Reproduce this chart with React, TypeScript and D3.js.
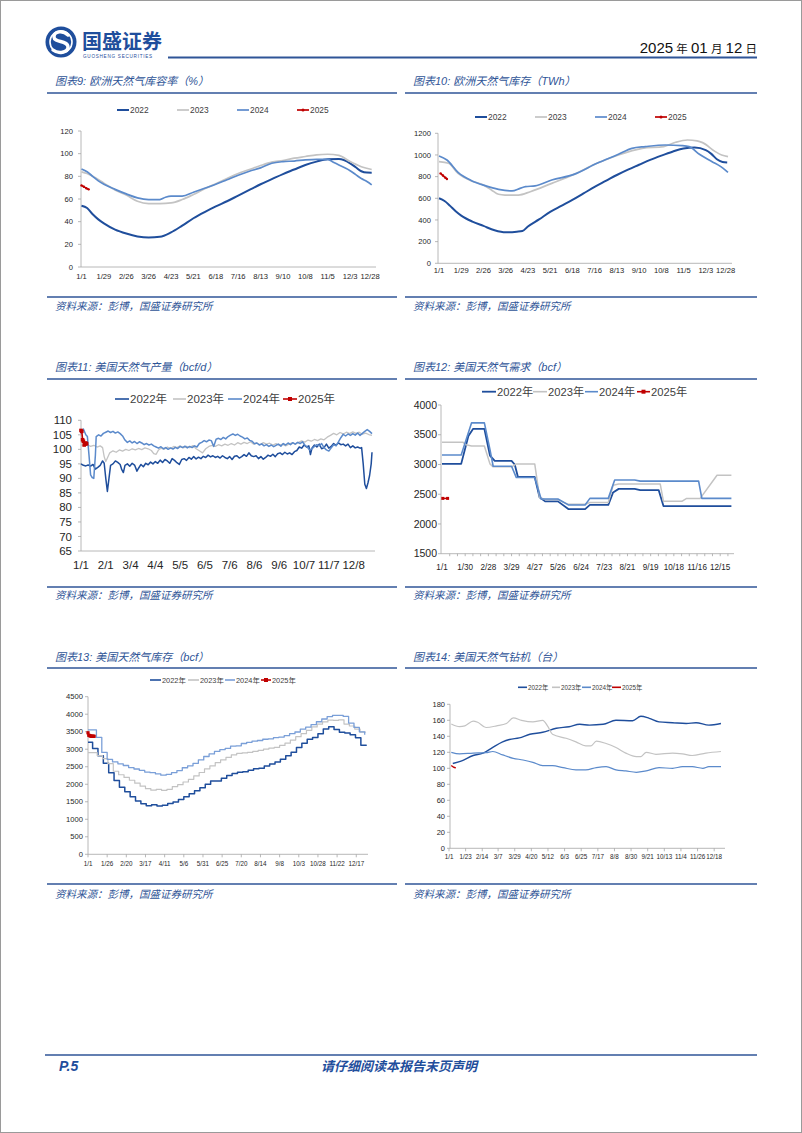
import React from 'react';
import * as d3 from 'd3';

// ---------- colours ----------
const C22 = '#1F4E9C';
const C23 = '#C3C3C3';
const C24 = '#5B8ACB';
const C24L = '#7A9FD8';
const C25 = '#C00000';
const BLUE = '#2F5597';
const AXIS = '#A6A6A6';
const LAT = "'Liberation Sans', Arial, sans-serif";
const CJK = "'Noto Sans CJK SC', sans-serif";

// ---------- chart 9: EU storage % ----------
const EU_PCT_LABELS = ['1/1', '1/29', '2/26', '3/26', '4/23', '5/21', '6/18', '7/16', '8/13', '9/10', '10/8', '11/5', '12/3', '12/28'];
const EU_PCT_TICKS = [0, 20, 40, 60, 80, 100, 120];
const EU_PCT_2022 = [[0, 54], [7, 52], [14, 46.5], [21, 42], [28, 38.5], [42, 33], [56, 29.5], [70, 27], [84, 26], [98, 26.6], [112, 30.5], [126, 36.5], [140, 43], [154, 48.5], [168, 53.5], [182, 58], [196, 63], [210, 68], [224, 73], [238, 77.5], [252, 82], [266, 86], [280, 90], [294, 93], [308, 95], [322, 95.2], [336, 91.5], [343, 88], [350, 84.5], [357, 83.3], [363, 83.2]];
const EU_PCT_2023 = [[0, 84], [7, 82.5], [14, 80], [28, 74], [42, 68], [56, 63.5], [70, 58], [84, 56], [98, 56], [112, 56.5], [126, 59.5], [140, 64], [154, 69], [168, 73.5], [182, 78], [196, 82.5], [210, 86], [224, 89.5], [238, 92.5], [252, 94], [266, 96], [280, 97.5], [294, 99], [308, 99.5], [322, 98.5], [336, 93], [350, 88.5], [363, 86]];
const EU_PCT_2024 = [[0, 86.5], [7, 84], [14, 80], [21, 76], [28, 73], [42, 68.5], [56, 64.5], [70, 61], [84, 59.5], [98, 59.5], [105, 61.5], [112, 62.5], [126, 62.5], [140, 66], [154, 69.5], [168, 73], [182, 77], [196, 81], [210, 84.5], [224, 87.5], [238, 91.5], [252, 93], [266, 93.5], [280, 94.5], [294, 95], [308, 95], [315, 92.5], [322, 90], [336, 85], [343, 81.5], [350, 78], [357, 75.5], [363, 72.5]];
const EU_PCT_2025 = [[0, 72], [3, 70.8], [6, 69.5], [9, 68.5]];

// ---------- chart 10: EU storage TWh ----------
const EU_TWH_TICKS = [0, 200, 400, 600, 800, 1000, 1200];
const EU_TWH_2022 = [[0, 600], [7, 575], [14, 530], [21, 480], [28, 440], [42, 385], [56, 345], [70, 305], [84, 286], [98, 292], [105, 298], [112, 340], [126, 405], [140, 475], [154, 530], [168, 585], [182, 645], [196, 705], [210, 760], [224, 815], [238, 865], [252, 910], [266, 955], [280, 994], [294, 1030], [308, 1060], [322, 1068], [336, 1045], [343, 1010], [350, 960], [357, 935], [363, 930]];
const EU_TWH_2023 = [[0, 938], [12, 923], [24, 830], [41, 760], [54, 729], [66, 677], [75, 637], [83, 630], [100, 630], [115, 661], [142, 738], [170, 821], [199, 923], [226, 1000], [256, 1061], [283, 1077], [298, 1117], [313, 1138], [325, 1130], [332, 1114], [348, 1031], [356, 1000], [364, 985]];
const EU_TWH_2024 = [[0, 991], [10, 954], [24, 840], [41, 763], [58, 717], [75, 683], [92, 668], [102, 692], [109, 708], [121, 714], [142, 769], [170, 821], [199, 923], [226, 1006], [243, 1061], [260, 1077], [285, 1092], [306, 1086], [315, 1077], [328, 1006], [344, 938], [355, 892], [364, 840]];
const EU_TWH_2025 = [[2, 830], [5, 810], [8, 790], [10, 778]];

// ---------- chart 11: US production bcf/d ----------
const PROD_LABELS = ['1/1', '2/1', '3/4', '4/4', '5/5', '6/5', '7/6', '8/6', '9/6', '10/7', '11/7', '12/8'];
const PROD_TICKS = [65, 70, 75, 80, 85, 90, 95, 100, 105, 110];
const PROD_2022 = [[0, 95], [3, 94.5], [6, 94.3], [9, 94.6], [12, 94.2], [15, 94.8], [18, 93.2], [21, 93.8], [24, 94.5], [27, 96], [29, 95.2], [31, 90], [33, 85.5], [35, 90], [37, 94.5], [40, 95], [43, 96], [46, 95.5], [49, 94.8], [51, 93], [53, 92], [55, 94.5], [58, 95], [61, 94.2], [64, 95.2], [67, 94.6], [70, 92.5], [72, 93.5], [75, 94.8], [78, 94], [81, 95.2], [84, 94.7], [87, 95.6], [90, 95], [93, 95.8], [96, 95.2], [99, 96.3], [102, 95.5], [105, 96.5], [108, 96], [111, 95.2], [114, 96.8], [117, 96.2], [120, 95.4], [123, 94.8], [126, 96.5], [129, 96.8], [132, 96.2], [135, 97.2], [138, 96.6], [141, 97.5], [144, 96.7], [147, 97.3], [150, 96.8], [153, 97.6], [156, 97.2], [159, 98], [162, 97.4], [165, 97.8], [168, 97.2], [171, 97.6], [174, 97], [177, 97.8], [180, 97.2], [183, 96.8], [186, 97.5], [189, 96.5], [192, 97.6], [195, 97.8], [198, 97], [201, 97.5], [204, 98.2], [207, 97.6], [210, 98.8], [213, 97.8], [216, 97.5], [219, 97.8], [222, 96.8], [225, 97.5], [228, 96.6], [231, 97.2], [234, 98], [237, 97.6], [240, 98.3], [243, 97.5], [246, 98.5], [249, 98.8], [252, 98.2], [255, 99], [258, 98.4], [261, 98.8], [264, 98.2], [267, 99.2], [270, 99.6], [273, 100.8], [276, 100.4], [279, 101.5], [282, 100.8], [285, 101.2], [287, 98.2], [289, 100.5], [292, 101.5], [295, 100.8], [298, 101.8], [301, 100.2], [304, 100.6], [307, 101.8], [310, 100.4], [313, 101], [316, 102], [319, 101.4], [322, 102.2], [325, 101.6], [328, 101.8], [331, 101.2], [334, 101.8], [337, 100.6], [340, 101.2], [343, 100.5], [346, 100.8], [349, 100.4], [351, 100.6], [353, 95], [355, 88], [357, 86.5], [359, 88.5], [361, 91], [363, 95], [364, 99]];
const PROD_2023 = [[0, 101.5], [4, 101.2], [8, 101.6], [12, 101], [16, 101.4], [20, 100.8], [24, 101.2], [27, 100.6], [29, 97.5], [31, 95.8], [33, 97], [36, 98.8], [40, 99.5], [44, 99], [48, 99.8], [52, 99.4], [56, 100], [60, 99.6], [64, 100.2], [68, 99.8], [72, 100.3], [76, 99.9], [80, 100.5], [84, 100.2], [88, 99.6], [91, 98.5], [94, 98.3], [97, 99.8], [100, 100.4], [104, 100], [108, 100.8], [112, 100.3], [116, 101], [120, 100.6], [124, 101.2], [128, 100.5], [132, 101], [136, 100.6], [140, 101.3], [144, 100.2], [148, 99.5], [152, 98.8], [156, 100.2], [160, 101], [164, 101.4], [168, 101], [172, 101.6], [176, 101.2], [180, 101.8], [184, 101.4], [188, 102], [192, 101.5], [196, 102.3], [200, 101.8], [204, 102.4], [208, 102], [212, 102.6], [216, 101.8], [220, 102.2], [224, 101.6], [228, 102.3], [232, 101.8], [236, 102.1], [240, 101.5], [244, 102], [248, 101.4], [252, 101.8], [256, 101.2], [260, 101.8], [264, 102.2], [268, 101.8], [272, 102.4], [276, 102.9], [280, 102.5], [284, 103.2], [288, 102.8], [292, 103.4], [296, 103], [300, 103.6], [304, 103.3], [308, 104.2], [312, 104.8], [316, 105.5], [320, 105], [324, 105.8], [328, 105.3], [332, 105.9], [336, 105.4], [340, 106], [344, 105.5], [348, 105.9], [352, 105.2], [356, 105.6], [360, 105.1], [364, 104.8]];
const PROD_2024 = [[0, 105.3], [3, 107], [6, 105], [8, 104.4], [10, 98], [12, 91.2], [14, 90.3], [16, 90], [18, 98], [19, 104.4], [22, 105], [25, 104.6], [28, 105.5], [31, 105.9], [34, 106.3], [37, 105.8], [40, 106.2], [43, 105.6], [46, 106], [49, 105.4], [52, 104.6], [55, 103.2], [58, 102.4], [61, 102.9], [64, 102.2], [67, 102.7], [70, 102], [73, 102.6], [76, 102.2], [79, 101.6], [82, 102], [85, 101.5], [88, 101.8], [91, 101.2], [94, 100.8], [97, 100.4], [100, 100.9], [103, 100.2], [106, 100.6], [109, 100], [112, 100.5], [115, 100.1], [118, 100.7], [121, 100.3], [124, 101], [127, 100.6], [130, 101.1], [133, 100.5], [136, 101], [139, 100.6], [142, 101.2], [145, 100.8], [148, 102], [151, 102.4], [154, 103], [157, 102.6], [160, 103.2], [163, 103], [166, 101], [169, 103.5], [172, 103.8], [175, 103.4], [178, 104.1], [181, 103.6], [184, 104.4], [187, 104.9], [190, 105.3], [193, 104.8], [196, 105.2], [199, 104.6], [202, 104.2], [205, 103.6], [208, 103.9], [211, 103.1], [214, 102.8], [217, 101.9], [220, 102.2], [223, 101.5], [226, 101.9], [229, 101.2], [232, 101.6], [235, 101], [238, 101.5], [241, 100.9], [244, 101.4], [247, 101.8], [250, 101.1], [253, 102], [256, 101.5], [259, 102.2], [262, 101.6], [265, 102.3], [268, 101.8], [271, 102.4], [274, 102], [277, 102.6], [280, 101.5], [283, 100.8], [286, 99.8], [289, 100.2], [292, 101], [295, 101.6], [298, 101.2], [301, 102], [304, 100.6], [307, 99.8], [310, 99.4], [313, 100.5], [316, 101.6], [319, 101.2], [322, 102.6], [325, 104], [328, 105.2], [331, 104.6], [334, 105.3], [337, 104.8], [340, 105.4], [343, 104.9], [346, 105.6], [349, 104.8], [352, 105.5], [355, 106.2], [358, 106.8], [361, 106.2], [364, 105.4]];
const PROD_2025 = [[0, 106.5], [1, 106.2], [2, 103.3], [3, 102.8], [4, 101.5], [5, 101.8], [6, 102.2], [7, 101.9]];

// ---------- chart 12: US demand bcf ----------
const DEM_LABELS = ['1/1', '1/30', '2/28', '3/29', '4/27', '5/26', '6/24', '7/23', '8/21', '9/19', '10/18', '11/16', '12/15'];
const DEM_TICKS = [1500, 2000, 2500, 3000, 3500, 4000];
const DEM_2022 = [[0, 3010], [24, 3010], [33, 3480], [39, 3600], [53, 3600], [60, 3150], [66, 3060], [87, 3060], [91, 3000], [95, 2790], [116, 2790], [122, 2450], [129, 2380], [145, 2380], [158, 2250], [179, 2250], [185, 2320], [208, 2320], [214, 2530], [221, 2590], [241, 2590], [248, 2570], [271, 2570], [277, 2300], [362, 2300]];
const DEM_2023 = [[0, 3375], [26, 3375], [30, 3330], [37, 3310], [53, 3310], [60, 3010], [64, 2960], [87, 2960], [93, 3010], [116, 3010], [122, 2450], [129, 2410], [145, 2410], [158, 2330], [179, 2330], [185, 2360], [208, 2360], [214, 2650], [221, 2670], [273, 2670], [277, 2380], [300, 2380], [306, 2430], [323, 2430], [344, 2820], [362, 2820]];
const DEM_2024 = [[0, 3160], [24, 3160], [37, 3700], [53, 3700], [60, 3250], [64, 2970], [87, 2970], [93, 2780], [116, 2780], [124, 2420], [145, 2420], [158, 2320], [179, 2320], [185, 2430], [208, 2430], [216, 2740], [241, 2740], [248, 2720], [321, 2720], [325, 2430], [362, 2430]];
const DEM_2025 = [[1, 2430], [7, 2430]];

// ---------- chart 13: US storage bcf (weekly) ----------
const STOR_LABELS = ['1/1', '1/26', '2/20', '3/17', '4/11', '5/6', '5/31', '6/25', '7/20', '8/14', '9/8', '10/3', '10/28', '11/22', '12/17'];
const STOR_TICKS = [0, 500, 1000, 1500, 2000, 2500, 3000, 3500, 4000, 4500];
const STOR_2022_OPEN = 3197;
const STOR_2022 = [3022, 2816, 2597, 2329, 2107, 1917, 1788, 1643, 1519, 1440, 1389, 1415, 1382, 1397, 1450, 1490, 1567, 1643, 1732, 1812, 1902, 1999, 2091, 2095, 2169, 2251, 2309, 2341, 2356, 2397, 2441, 2459, 2519, 2580, 2634, 2711, 2814, 2917, 3046, 3171, 3282, 3334, 3441, 3580, 3644, 3564, 3483, 3462, 3412, 3325, 3112, 3099];
const STOR_2023 = [2902, 2820, 2729, 2588, 2371, 2271, 2195, 2114, 2030, 1946, 1874, 1830, 1853, 1828, 1855, 1935, 1988, 2064, 2141, 2237, 2336, 2440, 2524, 2619, 2695, 2767, 2839, 2880, 2896, 2912, 2941, 2970, 3004, 3033, 3054, 3109, 3174, 3262, 3359, 3443, 3540, 3637, 3716, 3779, 3833, 3826, 3836, 3719, 3664, 3577, 3490, 3476];
const STOR_2024 = [3552, 3336, 2910, 2713, 2638, 2584, 2535, 2475, 2435, 2395, 2349, 2332, 2296, 2259, 2283, 2333, 2392, 2471, 2527, 2597, 2695, 2793, 2867, 2938, 2990, 3022, 3087, 3097, 3164, 3196, 3229, 3250, 3285, 3298, 3333, 3347, 3387, 3445, 3492, 3574, 3629, 3705, 3785, 3863, 3932, 3969, 3966, 3937, 3747, 3622, 3497, 3413];
const STOR_2025 = [[0, 3470], [1, 3400], [2, 3390], [3, 3380], [4, 3372], [5, 3370], [6, 3370], [7, 3370], [8, 3370]];

// ---------- chart 14: US gas rigs ----------
const RIG_LABELS = ['1/1', '1/23', '2/14', '3/7', '3/29', '4/20', '5/12', '6/3', '6/25', '7/17', '8/8', '8/30', '9/21', '10/13', '11/4', '11/26', '12/18'];
const RIG_TICKS = [0, 20, 40, 60, 80, 100, 120, 140, 160, 180];
const RIG_2022 = [[5, 106], [16, 109], [32, 116], [45, 119], [56, 125], [71, 133], [80, 136], [93, 138], [107, 142.5], [124, 145], [142, 150], [159, 152], [173, 155], [186, 154], [204, 155], [221, 160], [243, 159.5], [254, 165], [265, 162.5], [278, 158], [296, 157], [314, 156], [327, 157], [344, 154], [360, 156]];
const RIG_2023 = [[3, 155.4], [14, 152], [21, 153], [32, 159], [38, 157.5], [49, 151], [63, 153], [76, 156], [85, 163], [96, 160], [111, 158], [124, 160], [131, 152], [137, 142.5], [155, 137.5], [168, 133], [181, 128], [188, 128], [195, 134], [208, 131], [221, 126], [234, 119], [248, 114.6], [254, 114.6], [261, 120], [274, 117.5], [296, 119], [309, 118], [322, 116], [340, 119], [360, 121]];
const RIG_2024 = [[3, 120], [14, 118], [32, 119], [49, 119.6], [58, 121], [71, 116.7], [85, 112.5], [98, 110.4], [111, 107.5], [124, 103.3], [137, 103.3], [151, 100.8], [168, 98], [181, 98], [195, 100.8], [208, 102], [221, 98], [234, 96.7], [248, 95], [261, 96.7], [278, 100.8], [296, 100], [309, 102], [322, 102], [336, 100], [344, 102], [360, 102]];
const RIG_2025 = [[3, 103.5], [6, 101.5], [9, 100.5]];

// ---------- helpers ----------
const dayOf = (md: string) => {
  const [m, d] = md.split('/').map(Number);
  return d3.timeDay.count(new Date(2023, 0, 1), new Date(2023, m - 1, d));
};
const weekly = (first: number, vals: number[], open?: number) => {
  const pts = vals.map((v, i) => [first + 7 * i, v]);
  return open !== undefined ? [[0, open], ...pts] : [[0, vals[0]], ...pts];
};

type Ser = { label: string; color: string; width: number; data: number[][]; curve: any; marker?: string; ms?: number };

function LineChart(p: any) {
  const x = d3.scaleLinear().domain([0, 364]).range([p.xl, p.xr]);
  const y = d3.scaleLinear().domain(p.yDomain).range([p.yb, p.yt]);
  const series: Ser[] = p.series;
  const xs = p.xScale || 1;
  const minor: number[] = p.minorStep ? d3.range(p.minorStep, 364, p.minorStep) : [];
  return (
    <g>
      <line x1={p.ax} x2={p.ax} y1={p.yt} y2={p.yb} stroke={AXIS} strokeWidth={0.8} />
      <line x1={p.ax} x2={p.axEnd} y1={p.yb} y2={p.yb} stroke={AXIS} strokeWidth={0.8} />
      {p.yTicks.map((t: number) => (
        <g key={'y' + t}>
          <line x1={p.ax - 3} x2={p.ax} y1={y(t)} y2={y(t)} stroke={AXIS} strokeWidth={0.8} />
          <text x={p.yLabelX} y={y(t)} dy="0.35em" textAnchor="end" fontSize={p.yFont || p.tickFont} fontFamily={LAT} fill="#262626">{t}</text>
        </g>
      ))}
      {minor.map((d: number) => (
        <line key={'m' + d} x1={x(d)} x2={x(d)} y1={p.yb} y2={p.yb + 2.5} stroke={AXIS} strokeWidth={0.8} />
      ))}
      {p.xLabels.map((l: string) => (
        <g key={'x' + l}>
          {p.xTicks && <line x1={x(dayOf(l))} x2={x(dayOf(l))} y1={p.yb} y2={p.yb + 3} stroke={AXIS} strokeWidth={0.8} />}
          <text transform={`translate(${x(dayOf(l))},${p.xLabelY}) scale(${xs},1)`} textAnchor="middle" fontSize={p.tickFont} fontFamily={LAT} fill="#262626">{l}</text>
        </g>
      ))}
      {series.map((s, i) => {
        const line = d3.line<number[]>().x(d => x(d[0])).y(d => y(d[1])).curve(s.curve);
        return (
          <g key={'s' + i}>
            <path d={line(s.data) || ''} fill="none" stroke={s.color} strokeWidth={s.width} strokeLinejoin="round" />
            {s.marker === 'circle' && s.data.map((d, j) => <circle key={j} cx={x(d[0])} cy={y(d[1])} r={s.ms} fill={s.color} />)}
            {s.marker === 'square' && s.data.map((d, j) => <rect key={j} x={x(d[0]) - (s.ms || 2)} y={y(d[1]) - (s.ms || 2)} width={(s.ms || 2) * 2} height={(s.ms || 2) * 2} fill={s.color} />)}
          </g>
        );
      })}
      {series.map((s, i) => {
        const lx = p.legend[i][0];
        const tx = p.legend[i][1];
        const ly = p.legendY;
        const mid = (lx + tx - 1) / 2;
        return (
          <g key={'l' + i}>
            <line x1={lx} x2={tx - 1} y1={ly} y2={ly} stroke={s.color} strokeWidth={Math.max(s.width, 1.6)} />
            {s.marker === 'circle' && <circle cx={mid} cy={ly} r={(s.ms || 1.5) + 0.3} fill={s.color} />}
            {s.marker === 'square' && <rect x={mid - 2} y={ly - 2} width={4} height={4} fill={s.color} />}
            <text x={tx} y={ly} dy="0.36em" fontSize={p.legendFont} fontFamily={`${LAT}, ${CJK}`} fill="#404040">{s.label}</text>
          </g>
        );
      })}
    </g>
  );
}

function Section({ x0, x1, title, titleY, lineY, srcLineY, srcY }: any) {
  return (
    <g>
      <text x={x0 + 8} y={titleY} fontSize={11} fontStyle="italic" fontFamily={`${LAT}, ${CJK}`} fill={BLUE}>{title}</text>
      <line x1={x0} x2={x1} y1={lineY} y2={lineY} stroke={BLUE} strokeWidth={1.6} />
      <line x1={x0} x2={x1} y1={srcLineY} y2={srcLineY} stroke={BLUE} strokeWidth={1.6} />
      <text x={x0 + 8} y={srcY} fontSize={10.5} fontStyle="italic" fontFamily={CJK} fill={BLUE}>资料来源：彭博，国盛证券研究所</text>
    </g>
  );
}

export default function App() {
  const mono = d3.curveMonotoneX;
  const lin = d3.curveLinear;
  const step = d3.curveStepAfter;
  return (
    <div style={{ position: 'absolute', left: 0, top: 0 }}>
      <svg width={802} height={1133} style={{ display: 'block', background: '#fff' }}>
        <rect x={0.5} y={0.5} width={801} height={1132} fill="#fff" stroke="#9A9A9A" />
        {/* header */}
        <circle cx={61} cy={42} r={15.5} fill={C22} />
        <circle cx={61} cy={42} r={11} fill="none" stroke="#fff" strokeWidth={1.6} />
        <path d="M68 35 C63 30 54 31 54 37 C54 43 68 40 68 47 C68 53 58 54 53 50" fill="none" stroke="#fff" strokeWidth={3.4} strokeLinecap="round" />
        <text x={82} y={49} fontSize={20} fontWeight="bold" fontFamily={CJK} fill={C22}>国盛证券</text>
        <text x={83} y={58} fontSize={4.6} letterSpacing={0.75} fontFamily={LAT} fill={C22}>GUOSHENG SECURITIES</text>
        <line x1={168} x2={757} y1={57.5} y2={57.5} stroke={BLUE} strokeWidth={1.8} />
        <text x={757} y={53} textAnchor="end" fontFamily={`${LAT}, ${CJK}`} fill="#111">
          <tspan fontSize={15}>2025</tspan>
          <tspan fontSize={11.5}> 年 </tspan>
          <tspan fontSize={15}>01</tspan>
          <tspan fontSize={11.5}> 月 </tspan>
          <tspan fontSize={15}>12</tspan>
          <tspan fontSize={11.5}> 日</tspan>
        </text>

        {/* sections */}
        <Section x0={47} x1={397} title="图表9:  欧洲天然气库容率（%）" titleY={85} lineY={93} srcLineY={297} srcY={310} />
        <Section x0={405} x1={757} title="图表10:  欧洲天然气库存（TWh）" titleY={85} lineY={93} srcLineY={297} srcY={310} />
        <Section x0={47} x1={397} title="图表11:  美国天然气产量（bcf/d）" titleY={371} lineY={379} srcLineY={587} srcY={599} />
        <Section x0={405} x1={757} title="图表12:  美国天然气需求（bcf）" titleY={371} lineY={379} srcLineY={587} srcY={599} />
        <Section x0={47} x1={397} title="图表13:  美国天然气库存（bcf）" titleY={661} lineY={668} srcLineY={884} srcY={898} />
        <Section x0={405} x1={757} title="图表14:  美国天然气钻机（台）" titleY={661} lineY={668} srcLineY={884} srcY={898} />

        {/* chart 9 */}
        <LineChart xl={81.5} xr={372.5} ax={81} axEnd={376} yb={267} yt={131} yDomain={[0, 120]} yTicks={EU_PCT_TICKS}
          yLabelX={73} tickFont={7.6} xLabels={EU_PCT_LABELS} xLabelY={279} legendY={110} legendFont={8.4}
          legend={[[117, 130], [177, 190], [237, 250], [297, 310]]}
          series={[
            { label: '2022', color: C22, width: 2, data: EU_PCT_2022, curve: mono },
            { label: '2023', color: C23, width: 1.7, data: EU_PCT_2023, curve: mono },
            { label: '2024', color: C24, width: 1.7, data: EU_PCT_2024, curve: mono },
            { label: '2025', color: C25, width: 1.7, data: EU_PCT_2025, curve: mono, marker: 'circle', ms: 1.2 },
          ]} />

        {/* chart 10 */}
        <LineChart xl={439} xr={728} ax={438} axEnd={732} yb={263.3} yt={133.3} yDomain={[0, 1200]} yTicks={EU_TWH_TICKS}
          yLabelX={431} tickFont={7.6} xLabels={EU_PCT_LABELS} xLabelY={273} legendY={117} legendFont={8.4}
          legend={[[475, 488], [535, 548], [595, 608], [655, 668]]}
          series={[
            { label: '2022', color: C22, width: 2, data: EU_TWH_2022, curve: mono },
            { label: '2023', color: C23, width: 1.7, data: EU_TWH_2023, curve: mono },
            { label: '2024', color: C24, width: 1.7, data: EU_TWH_2024, curve: mono },
            { label: '2025', color: C25, width: 1.7, data: EU_TWH_2025, curve: mono, marker: 'circle', ms: 1.2 },
          ]} />

        {/* chart 11 */}
        <LineChart xl={81} xr={372} ax={81} axEnd={375} yb={551} yt={420.3} yDomain={[65, 110]} yTicks={PROD_TICKS}
          yLabelX={72} tickFont={11.5} xLabels={PROD_LABELS} xLabelY={569} legendY={399} legendFont={11.5}
          legend={[[115, 130], [173, 187], [228, 243], [283, 298]]}
          series={[
            { label: '2022年', color: C22, width: 1.5, data: PROD_2022, curve: lin },
            { label: '2023年', color: C23, width: 1.3, data: PROD_2023, curve: lin },
            { label: '2024年', color: C24, width: 1.5, data: PROD_2024, curve: lin },
            { label: '2025年', color: C25, width: 1.6, data: PROD_2025, curve: lin, marker: 'square', ms: 1.8 },
          ]} />

        {/* chart 12 */}
        <LineChart xl={442} xr={733} ax={441} axEnd={734} yb={553.7} yt={405} yDomain={[1500, 4000]} yTicks={DEM_TICKS}
          yLabelX={437} tickFont={9.6} xScale={0.85} yFont={10.5} minorStep={29 / 3} xLabels={DEM_LABELS} xLabelY={570} legendY={391.7} legendFont={11.2}
          legend={[[482, 497], [533, 548], [585, 599], [637, 651]]}
          series={[
            { label: '2022年', color: C22, width: 1.8, data: DEM_2022, curve: lin },
            { label: '2023年', color: C23, width: 1.5, data: DEM_2023, curve: lin },
            { label: '2024年', color: C24, width: 1.6, data: DEM_2024, curve: lin },
            { label: '2025年', color: C25, width: 1.5, data: DEM_2025, curve: lin, marker: 'square', ms: 1.5 },
          ]} />

        {/* chart 13 */}
        <LineChart xl={88} xr={367} ax={88} axEnd={368} yb={854.3} yt={696.7} yDomain={[0, 4500]} yTicks={STOR_TICKS}
          yLabelX={83} tickFont={7} xScale={0.9} yFont={7.6} xTicks={true} xLabels={STOR_LABELS} xLabelY={866} legendY={680} legendFont={7.4}
          legend={[[150, 162], [188, 200], [225, 236], [261, 272]]}
          series={[
            { label: '2022年', color: C22, width: 1.5, data: weekly(6, STOR_2022, STOR_2022_OPEN), curve: step },
            { label: '2023年', color: C23, width: 1.2, data: weekly(5, STOR_2023), curve: step },
            { label: '2024年', color: C24L, width: 1.3, data: weekly(4, STOR_2024), curve: step },
            { label: '2025年', color: C25, width: 1.6, data: STOR_2025, curve: lin, marker: 'square', ms: 1.6 },
          ]} />

        {/* chart 14 */}
        <LineChart xl={449} xr={724} ax={450} axEnd={725} yb={848.3} yt={704.3} yDomain={[0, 180]} yTicks={RIG_TICKS}
          yLabelX={445} tickFont={7} xScale={0.9} yFont={7.5} xLabels={RIG_LABELS} xLabelY={858.5} xTicks={true} legendY={687.3} legendFont={6.3}
          legend={[[518, 528], [552, 561], [582, 592], [612, 622]]}
          series={[
            { label: '2022年', color: C22, width: 1.4, data: RIG_2022, curve: mono },
            { label: '2023年', color: C23, width: 1.2, data: RIG_2023, curve: mono },
            { label: '2024年', color: C24, width: 1.2, data: RIG_2024, curve: mono },
            { label: '2025年', color: C25, width: 1.5, data: RIG_2025, curve: mono },
          ]} />

        {/* footer */}
        <line x1={45} x2={757} y1={1055} y2={1055} stroke={BLUE} strokeWidth={1.6} />
        <text x={59} y={1071} fontSize={14} fontWeight="bold" fontStyle="italic" fontFamily={LAT} fill={C22}>P.5</text>
        <text x={399} y={1071} textAnchor="middle" fontSize={13} fontWeight="bold" fontStyle="italic" fontFamily={CJK} fill={C22}>请仔细阅读本报告末页声明</text>
      </svg>
    </div>
  );
}
